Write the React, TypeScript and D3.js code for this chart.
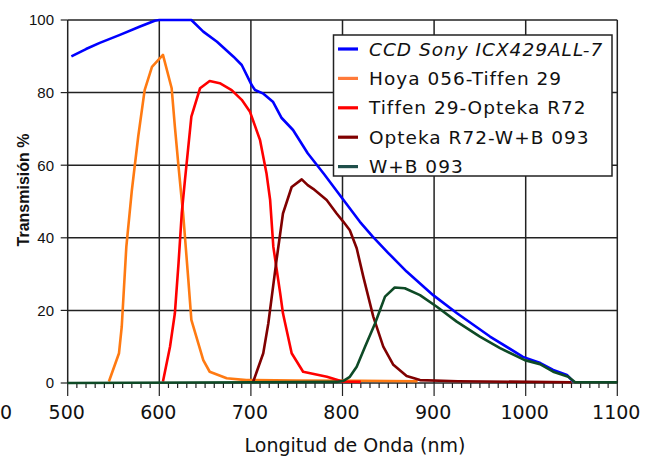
import React from "react";
import * as d3 from "d3";

const W = 656;
const H = 461;

// x ticks (nm) and y ticks (%)
const xTicks = [500, 600, 700, 800, 900, 1000, 1100];
const yTicks = [0, 20, 40, 60, 80, 100];

const seriesNames = [
  "CCD Sony ICX429ALL-7",
  "Hoya 056-Tiffen 29",
  "Tiffen 29-Opteka R72",
  "Opteka R72-W+B 093",
  "W+B 093",
];
const seriesColors = ["#0000ff", "#ff7a12", "#ff0000", "#800000", "#0e4a26"];
const legendSwatchColors = ["#0000ff", "#ff7a3a", "#ff0000", "#800000", "#1f4f4a"];

const ccd: [number, number][] = [
  [504, 90], [520, 92], [535, 93.7], [557, 95.9], [579, 98.2], [595, 99.8], [600, 100],
  [635, 100], [648, 96.8], [663, 94], [681, 89.9], [690, 87.6], [701, 82], [704.5, 80.7],
  [713, 79.8], [724, 77.5], [733.6, 73], [746, 69.7], [762, 63.3], [780, 57.5], [797, 51.8],
  [819, 44.4], [833, 40.3], [850, 35.8], [870, 30.7], [899, 24.2], [925, 19.2], [961, 12.8],
  [997, 7.2], [1016, 5.5], [1030, 3.6], [1045, 2.2], [1052, 0.4],
];

const hoya: [number, number][] = [
  [545, 0.4], [556, 8.2], [559, 15.5], [564, 37.5], [570, 53], [577, 67.9], [584, 80.7],
  [592, 87.1], [604, 90.4], [613.5, 81.2], [617, 70.6], [621, 59.6], [624.5, 50.4],
  [626, 46.7], [631.7, 28.4], [635, 17.4], [648, 6.3], [655, 3.1], [673.6, 1.3],
  [695, 0.8], [750, 0.7], [820, 0.6], [882, 0.5],
];

const tiffen: [number, number][] = [
  [604, 0.4], [611.7, 10], [617, 19.2], [621, 33], [624.5, 46.7], [628, 55.9], [635, 73.4],
  [644.5, 81.2], [655, 83.2], [666, 82.6], [679, 80.7], [690, 78], [699, 74.7], [710, 66.9],
  [717, 57.8], [721, 50.4], [724.5, 37.5], [732, 24.7], [735, 19.2], [744.5, 8.2],
  [757, 3.1], [783, 1.7], [800, 0.4], [820, 0.3],
];

const opteka: [number, number][] = [
  [702.6, 0.4], [713.5, 8.2], [719, 16.4], [728, 33.9], [735, 46.7], [744.5, 54], [755.5, 56.1],
  [762, 54.5], [768, 53.5], [782.7, 50.4], [793.6, 46.7], [801, 44.4], [808, 42.1],
  [815.5, 37.1], [822.7, 29.3], [833.6, 18.3], [844.5, 10], [855.5, 5], [870, 1.9],
  [884.6, 0.8], [926, 0.5], [1050, 0.2],
];

const wb: [number, number][] = [
  [500, 0], [793.6, 0.3], [801, 0.6], [808, 1.7], [815.5, 4.5], [824.6, 10], [835.5, 16.4],
  [846.4, 23.8], [857, 26.3], [868, 26.1], [884.6, 24.2], [903, 21], [924.7, 16.9], [950, 12.8],
  [972, 9.6], [999, 6.3], [1015.6, 5.2], [1030, 3.1], [1046.5, 1.7], [1054, 0.2], [1100, 0.2],
];

const allSeries = [ccd, hoya, tiffen, opteka, wb];

const x = d3.scaleLinear().domain([500, 1100]).range([67.7, 617.3]);
const y = d3.scaleLinear().domain([0, 100]).range([383, 20]);

const line = d3
  .line<[number, number]>()
  .x((d) => x(d[0]))
  .y((d) => y(d[1]));

const minorTicks = d3.range(500, 1101, 10);
const sans = "'DejaVu Sans', sans-serif";

export default function App() {
  return (
    <svg width={W} height={H} style={{ position: "absolute", left: 0, top: 0, background: "#fff" }}>
      <rect x={0} y={0} width={W} height={H} fill="#fff" />
      {/* grid */}
      {yTicks.map((t) => (
        <line key={"gy" + t} x1={x(500)} x2={x(1100)} y1={y(t)} y2={y(t)} stroke="#222" strokeWidth={1.5} />
      ))}
      {xTicks.map((t) => (
        <line key={"gx" + t} x1={x(t)} x2={x(t)} y1={y(0)} y2={y(100)} stroke="#222" strokeWidth={1.5} />
      ))}
      {/* y ticks */}
      {yTicks.map((t) => (
        <g key={"yt" + t}>
          <line x1={x(500) - 7} x2={x(500)} y1={y(t)} y2={y(t)} stroke="#222" strokeWidth={1.2} />
          <text
            x={54}
            y={y(t)}
            dy="0.36em"
            textAnchor="end"
            fontFamily="'Liberation Sans', Arial, sans-serif"
            fontSize={15}
            fill="#111"
          >
            {t}
          </text>
        </g>
      ))}
      {/* x minor & major ticks */}
      {minorTicks.map((t) => (
        <line
          key={"xt" + t}
          x1={x(t)}
          x2={x(t)}
          y1={y(0)}
          y2={y(0) + (t % 100 === 0 ? 13 : 5)}
          stroke="#222"
          strokeWidth={1.2}
        />
      ))}
      {xTicks.map((t) => (
        <text key={"xl" + t} x={x(t) - 1} y={419} textAnchor="middle" fontFamily={sans} fontSize={19} fill="#111">
          {t}
        </text>
      ))}
      <text x={0} y={419} textAnchor="start" fontFamily={sans} fontSize={19} fill="#111">
        0
      </text>
      {/* series */}
      {allSeries.map((s, i) => (
        <path
          key={"s" + i}
          d={line(s) || ""}
          fill="none"
          stroke={seriesColors[i]}
          strokeWidth={2.6}
          strokeLinejoin="round"
        />
      ))}
      {/* axis titles */}
      <text x={355} y={452} textAnchor="middle" fontFamily={sans} fontSize={19} fill="#111">
        Longitud de Onda (nm)
      </text>
      <text
        transform="translate(29,190) rotate(-90)"
        textAnchor="middle"
        fontFamily="'Liberation Sans', Arial, sans-serif"
        fontWeight="bold"
        fontSize={16}
        fill="#111"
      >
        Transmisión %
      </text>
      {/* legend */}
      <g>
        <rect x={333.5} y={35} width={278.5} height={141} fill="#fff" stroke="#222" strokeWidth={1.5} />
        {seriesNames.map((n, i) => {
          const ry = 49 + i * 29.4;
          return (
            <g key={"lg" + i}>
              <line x1={338} x2={358} y1={ry} y2={ry} stroke={legendSwatchColors[i]} strokeWidth={3.2} />
              <text
                x={369}
                y={ry}
                dy="0.36em"
                fontFamily={sans}
                fontSize={18.5}
                letterSpacing={1}
                fill="#111"
                fontStyle={i === 0 ? "italic" : "normal"}
              >
                {n}
              </text>
            </g>
          );
        })}
      </g>
    </svg>
  );
}
